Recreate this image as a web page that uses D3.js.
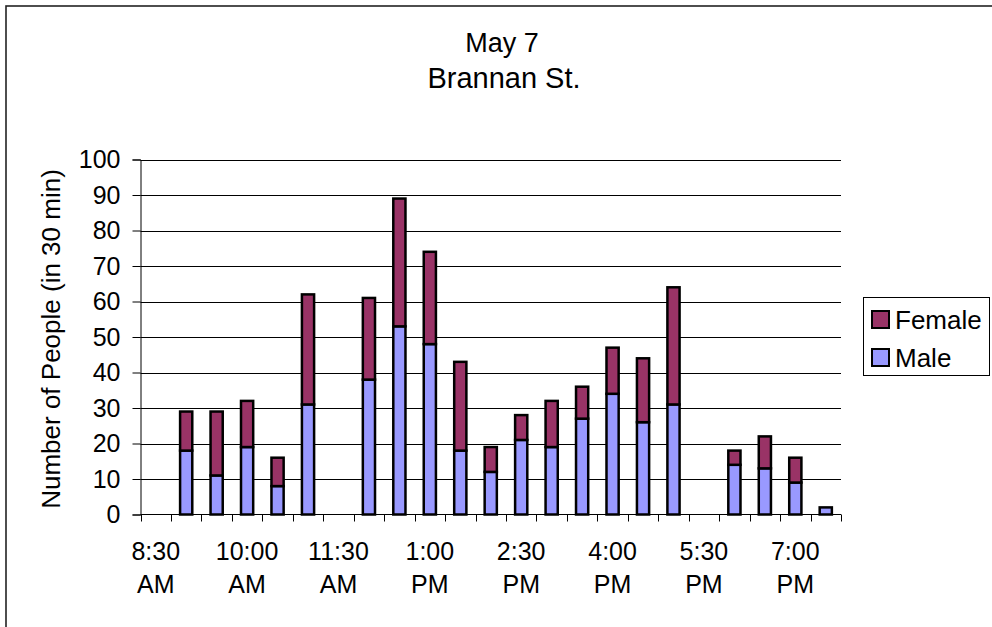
<!DOCTYPE html>
<meta charset="utf-8">
<style>
body { margin: 0; background: #fff; }
svg text { font-family: "Liberation Sans", Arial, sans-serif; fill: #000; }
</style>
<body>
<svg id="chart" width="992" height="627"></svg>
</body>
<script src="https://d3js.org/d3.v7.min.js"></script>
<script>
// half-hour slots
var times = ["8:30 AM", "9:00 AM", "9:30 AM", "10:00 AM", "10:30 AM", "11:00 AM",
  "11:30 AM", "12:00 PM", "12:30 PM", "1:00 PM", "1:30 PM", "2:00 PM", "2:30 PM",
  "3:00 PM", "3:30 PM", "4:00 PM", "4:30 PM", "5:00 PM", "5:30 PM", "6:00 PM",
  "6:30 PM", "7:00 PM", "7:30 PM"];
var male   = [0, 18, 11, 19, 8, 31, 0, 38, 53, 48, 18, 12, 21, 19, 27, 34, 26, 31, 0, 14, 13, 9, 2];
var female = [0, 11, 18, 13, 8, 31, 0, 23, 36, 26, 25, 7, 7, 13, 9, 13, 18, 33, 0, 4, 9, 7, 0];
var yTicks = [0, 10, 20, 30, 40, 50, 60, 70, 80, 90, 100];
var keys = ["Male", "Female"];
var color = {Male: "#9999FF", Female: "#993366"};

var svg = d3.select("#chart");

// outer chart border (runs off the bottom/right of the window)
svg.append("rect")
    .attr("x", 6).attr("y", 6)
    .attr("width", 1000).attr("height", 700)
    .attr("fill", "#fff")
    .attr("stroke", "#222")
    .attr("stroke-width", 1.6);

var plotL = 140.5, plotR = 841, plotT = 159.5, plotB = 514.5;

var x = d3.scaleBand()
    .domain(times)
    .range([plotL, plotR])
    .paddingInner(0.6)
    .paddingOuter(0.3);

var y = d3.scaleLinear().domain([0, 100]).range([plotB, plotT]);

// gridlines
svg.append("g")
  .selectAll("line")
  .data(yTicks.filter(function(d) { return d > 0; }))
  .enter().append("line")
    .attr("x1", plotL).attr("x2", plotR)
    .attr("y1", function(d) { return Math.round(y(d)) + 0.5; })
    .attr("y2", function(d) { return Math.round(y(d)) + 0.5; })
    .attr("stroke", "#000")
    .attr("stroke-width", 1);

// y axis
var yAxis = svg.append("g")
    .attr("transform", "translate(" + plotL + ",0)")
    .call(d3.axisLeft(y).tickValues(yTicks).tickSize(8).tickPadding(12));
yAxis.select(".domain").attr("stroke", "#000");
yAxis.selectAll(".tick line").attr("stroke", "#000");
yAxis.selectAll("text")
    .style("font-size", "25px")
    .style("font-family", "'Liberation Sans', Arial, sans-serif")
    .attr("fill", "#000");

// stacked bars
var rows = times.map(function(t, i) { return {time: t, Male: male[i], Female: female[i]}; });
var series = d3.stack().keys(keys)(rows);

svg.append("g")
  .selectAll("g")
  .data(series)
  .enter().append("g")
    .attr("fill", function(d) { return color[d.key]; })
  .selectAll("rect")
  .data(function(d) { return d.filter(function(p) { return p[1] - p[0] > 0; }); })
  .enter().append("rect")
    .attr("x", function(d) { return x(d.data.time); })
    .attr("y", function(d) { return y(d[1]); })
    .attr("width", x.bandwidth())
    .attr("height", function(d) { return y(d[0]) - y(d[1]); })
    .attr("stroke", "#000")
    .attr("stroke-width", 2.5);

// x axis line and ticks at category boundaries
svg.append("line")
    .attr("x1", plotL).attr("x2", plotR)
    .attr("y1", plotB).attr("y2", plotB)
    .attr("stroke", "#000");

var step = x.step();
var bounds = d3.range(times.length + 1);
svg.append("g")
  .selectAll("line")
  .data(bounds)
  .enter().append("line")
    .attr("x1", function(i) { return Math.round(plotL + i * step) + 0.5; })
    .attr("x2", function(i) { return Math.round(plotL + i * step) + 0.5; })
    .attr("y1", plotB).attr("y2", plotB + 7)
    .attr("stroke", "#000");

// x labels every third slot, two lines
var xl = svg.append("g")
  .selectAll("text")
  .data(times.filter(function(d, i) { return i % 3 === 0; }))
  .enter().append("text")
    .attr("text-anchor", "middle")
    .style("font-size", "25px");
xl.append("tspan")
    .attr("x", function(d) { return x(d) + x.bandwidth() / 2; })
    .attr("y", 560)
    .text(function(d) { return d.split(" ")[0]; });
xl.append("tspan")
    .attr("x", function(d) { return x(d) + x.bandwidth() / 2; })
    .attr("y", 593)
    .text(function(d) { return d.split(" ")[1]; });

// axis title
svg.append("text")
    .attr("transform", "translate(60,339) rotate(-90)")
    .attr("text-anchor", "middle")
    .style("font-size", "26px")
    .text("Number of People (in 30 min)");

// chart title
svg.append("text")
    .attr("x", 502).attr("y", 52)
    .attr("text-anchor", "middle")
    .style("font-size", "27px")
    .text("May 7");
svg.append("text")
    .attr("x", 504).attr("y", 88)
    .attr("text-anchor", "middle")
    .style("font-size", "29px")
    .text("Brannan St.");

// legend
var legend = svg.append("g");
legend.append("rect")
    .attr("x", 863.5).attr("y", 297.5)
    .attr("width", 126).attr("height", 78)
    .attr("fill", "#fff")
    .attr("stroke", "#000");

var legItems = ["Female", "Male"];
legItems.forEach(function(k, i) {
  var cy = 320 + i * 38;
  legend.append("rect")
      .attr("x", 872).attr("y", cy - 9)
      .attr("width", 17).attr("height", 17)
      .attr("fill", color[k])
      .attr("stroke", "#000")
      .attr("stroke-width", 2);
  legend.append("text")
      .attr("x", 895).attr("y", cy + 9)
      .style("font-size", "26px")
      .text(k);
});
</script>
